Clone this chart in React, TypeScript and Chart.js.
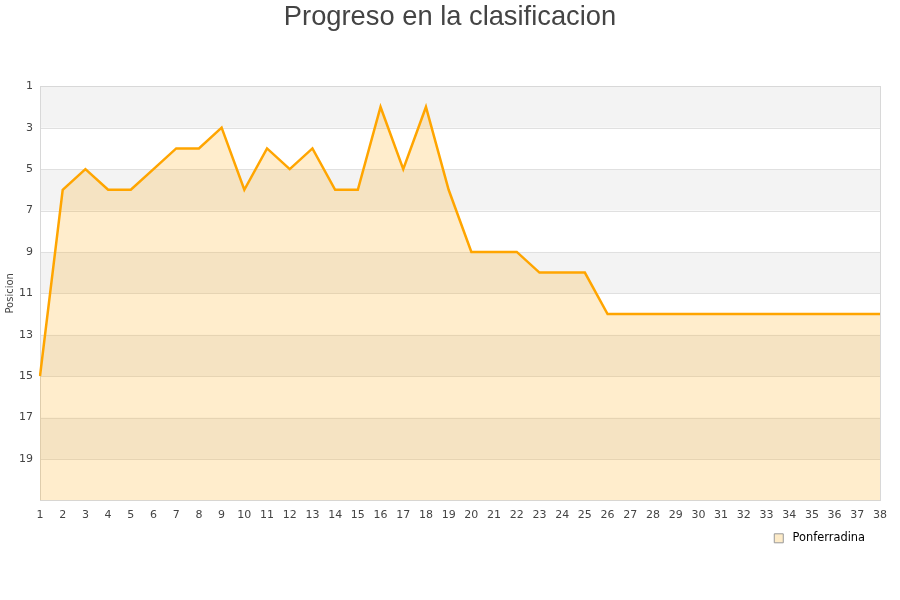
import React, { useEffect, useRef } from "react";
import { Chart, registerables } from "chart.js";

Chart.register(...registerables);

const jornadas: string[] = Array.from({ length: 38 }, (_, i) => String(i + 1));
const posiciones: number[] = [
  15, 6, 5, 6, 6, 5, 4, 4, 3, 6,
  4, 5, 4, 6, 6, 2, 5, 2, 6, 9,
  9, 9, 10, 10, 10, 12, 12, 12, 12, 12,
  12, 12, 12, 12, 12, 12, 12, 12,
];
const teamName = "Ponferradina";
const chartTitle = "Progreso en la clasificacion";
const yTitle = "Posicion";

const bandsPlugin = {
  id: "bands",
  afterLayout(chart: any) {
    if (chart.legend) chart.legend.right -= 12;
    if (chart.titleBlock) {
      chart.titleBlock.left = 0;
      chart.titleBlock.right = chart.width;
    }
  },
  beforeDatasetsDraw(chart: any) {
    const { ctx, chartArea, scales } = chart;
    const y = scales.y;
    ctx.save();
    ctx.fillStyle = "#f3f3f3";
    for (let v = 1; v < 21; v += 4) {
      const t = y.getPixelForValue(v);
      const b = y.getPixelForValue(Math.min(v + 2, 21));
      ctx.fillRect(chartArea.left, t, chartArea.right - chartArea.left, b - t);
    }
    ctx.strokeStyle = "#e0e0e0";
    ctx.lineWidth = 1;
    for (let v = 1; v <= 21; v += 2) {
      const p = Math.round(y.getPixelForValue(v)) + 0.5;
      ctx.beginPath();
      ctx.moveTo(chartArea.left, p);
      ctx.lineTo(chartArea.right, p);
      ctx.stroke();
    }
    ctx.strokeStyle = "#d8d8d8";
    ctx.strokeRect(
      Math.round(chartArea.left) + 0.5,
      Math.round(chartArea.top) + 0.5,
      Math.round(chartArea.right - chartArea.left),
      Math.round(chartArea.bottom - chartArea.top)
    );
    ctx.restore();
  },
};

export default function App() {
  const ref = useRef<HTMLCanvasElement | null>(null);
  useEffect(() => {
    if (!ref.current) return;
    const chart = new Chart(ref.current, {
      type: "line",
      data: {
        labels: jornadas,
        datasets: [
          {
            label: teamName,
            data: posiciones,
            borderColor: "#FFA500",
            borderWidth: 2.5,
            backgroundColor: "rgba(255,165,0,0.2)",
            fill: { value: 21 },
            pointRadius: 0,
            tension: 0,
          },
        ],
      },
      options: {
        animation: false,
        responsive: false,
        layout: { padding: { top: 1, bottom: 46, right: 20, left: 4 } },
        plugins: {
          title: {
            display: true,
            text: chartTitle,
            color: "#444444",
            font: { family: "'Liberation Sans', Arial, sans-serif", size: 27.3, weight: "normal" },
            padding: { top: 0, bottom: 52.5 },
          },
          legend: {
            position: "bottom",
            align: "end",
            labels: {
              boxWidth: 9,
              boxHeight: 9,
              padding: 3,
              color: "#222",
              font: { family: "'DejaVu Sans', sans-serif", size: 11.4 },
              generateLabels: () => [
                {
                  text: " " + teamName,
                  fillStyle: "#fdebc8",
                  strokeStyle: "#999",
                  lineWidth: 1,
                  datasetIndex: 0,
                },
              ],
            },
          },
          tooltip: { enabled: false },
        },
        scales: {
          x: {
            type: "category",
            offset: false,
            grid: { display: false, drawTicks: false },
            border: { display: false },
            ticks: {
              autoSkip: false,
              maxRotation: 0,
              color: "#444",
              font: { family: "'DejaVu Sans', sans-serif", size: 11 },
              padding: 8,
            },
          },
          y: {
            reverse: true,
            min: 1,
            max: 21,
            grid: { display: false, drawTicks: false },
            border: { display: false },
            afterFit: (s: any) => {
              s.width = 36;
            },
            title: {
              display: true,
              text: yTitle,
              color: "#444",
              font: { family: "'DejaVu Sans', sans-serif", size: 10 },
              padding: { top: 0, bottom: 4 },
            },
            ticks: {
              stepSize: 2,
              color: "#444",
              font: { family: "'DejaVu Sans', sans-serif", size: 11 },
              callback: (v: any) => (v === 21 ? "" : String(v)),
              padding: 7,
            },
          },
        },
      },
      plugins: [bandsPlugin],
    });
    return () => chart.destroy();
  }, []);
  return (
    <div style={{ position: "fixed", left: 0, top: 0, width: 900, height: 600, background: "#fff" }}>
      <canvas ref={ref} width={900} height={600} />
    </div>
  );
}
